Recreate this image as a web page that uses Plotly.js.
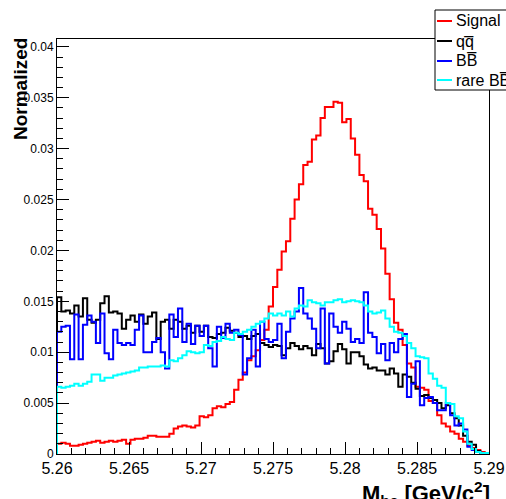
<!DOCTYPE html>
<html>
<head>
<meta charset="utf-8">
<script src="https://cdn.plot.ly/plotly-3.0.1.min.js"></script>
<style>html,body{margin:0;padding:0;background:#fff;}#chart{width:506px;height:499px;}</style>
</head>
<body>
<div id="chart"></div>
<script>
// Histogram binning (M_bc axis)
const xMin = 5.26;
const xMax = 5.29;
const nBins = 100;

const legendLabels = ["Signal", "qq\u0305", "BB\u0305", "rare BB\u0305"];
const seriesColors = ["#ff0000", "#000000", "#0000ff", "#00ffff"];

const signal = [
  0.0010, 0.0011, 0.0010, 0.0008, 0.0008, 0.0009, 0.0010, 0.0011, 0.0012, 0.0013,
  0.0011, 0.0012, 0.0013, 0.0012, 0.0013, 0.0014, 0.0010, 0.0014, 0.0015, 0.0015,
  0.0016, 0.0018, 0.0018, 0.0017, 0.0017, 0.0017, 0.0020, 0.0025, 0.0027, 0.0028,
  0.0027, 0.0026, 0.0028, 0.0037, 0.0036, 0.0038, 0.0045, 0.0047, 0.0046, 0.0049,
  0.0051, 0.0063, 0.0073, 0.0080, 0.0092, 0.0096, 0.0102, 0.0112, 0.0122, 0.0145,
  0.0164, 0.0181, 0.0199, 0.0209, 0.0231, 0.0250, 0.0265, 0.0284, 0.0287, 0.0309,
  0.0313, 0.0330, 0.0341, 0.0341, 0.0346, 0.0345, 0.0326, 0.0329, 0.0310, 0.0294,
  0.0274, 0.0268, 0.0241, 0.0235, 0.0221, 0.0202, 0.0177, 0.0152, 0.0129, 0.0122,
  0.0107, 0.0089, 0.0085, 0.0066, 0.0065, 0.0063, 0.0052, 0.0050, 0.0038, 0.0030,
  0.0027, 0.0022, 0.0020, 0.0015, 0.0012, 0.0008, 0.0006, 0.0004, 0.0002, 0.0001
];

const qqbar = [
  0.0154, 0.0140, 0.0141, 0.0138, 0.0146, 0.0135, 0.0153, 0.0132, 0.0129, 0.0132,
  0.0148, 0.0155, 0.0139, 0.0140, 0.0138, 0.0123, 0.0132, 0.0136, 0.0130, 0.0137,
  0.0128, 0.0135, 0.0139, 0.0113, 0.0130, 0.0132, 0.0123, 0.0132, 0.0130, 0.0123,
  0.0126, 0.0119, 0.0126, 0.0120, 0.0126, 0.0115, 0.0114, 0.0118, 0.0119, 0.0124,
  0.0121, 0.0119, 0.0115, 0.0116, 0.0113, 0.0116, 0.0118, 0.0109, 0.0107, 0.0105,
  0.0107, 0.0106, 0.0097, 0.0104, 0.0109, 0.0106, 0.0103, 0.0106, 0.0104, 0.0097,
  0.0108, 0.0104, 0.0089, 0.0091, 0.0101, 0.0108, 0.0103, 0.0089, 0.0100, 0.0100,
  0.0096, 0.0088, 0.0084, 0.0085, 0.0082, 0.0082, 0.0078, 0.0084, 0.0079, 0.0066,
  0.0078, 0.0076, 0.0070, 0.0064, 0.0057, 0.0058, 0.0055, 0.0053, 0.0050, 0.0045,
  0.0048, 0.0040, 0.0035, 0.0028, 0.0018, 0.0012, 0.0009, 0.0003, 0.0001, 0.0000
];

const bbbar = [
  0.0120, 0.0125, 0.0126, 0.0093, 0.0137, 0.0093, 0.0127, 0.0136, 0.0130, 0.0109,
  0.0138, 0.0099, 0.0093, 0.0122, 0.0109, 0.0107, 0.0109, 0.0107, 0.0122, 0.0136,
  0.0100, 0.0100, 0.0110, 0.0114, 0.0100, 0.0084, 0.0137, 0.0115, 0.0143, 0.0110,
  0.0128, 0.0108, 0.0126, 0.0116, 0.0126, 0.0104, 0.0086, 0.0125, 0.0114, 0.0128,
  0.0119, 0.0122, 0.0117, 0.0078, 0.0094, 0.0122, 0.0086, 0.0130, 0.0113, 0.0110,
  0.0112, 0.0128, 0.0094, 0.0120, 0.0133, 0.0140, 0.0163, 0.0138, 0.0133, 0.0123,
  0.0104, 0.0143, 0.0089, 0.0138, 0.0125, 0.0119, 0.0130, 0.0123, 0.0110, 0.0113,
  0.0109, 0.0159, 0.0119, 0.0115, 0.0099, 0.0108, 0.0092, 0.0109, 0.0100, 0.0113,
  0.0118, 0.0056, 0.0069, 0.0091, 0.0048, 0.0055, 0.0056, 0.0050, 0.0043, 0.0043,
  0.0050, 0.0038, 0.0028, 0.0030, 0.0024, 0.0007, 0.0004, 0.0002, 0.0000, 0.0000
];

const rareBB = [
  0.0066, 0.0065, 0.0066, 0.0067, 0.0069, 0.0067, 0.0069, 0.0071, 0.0078, 0.0078,
  0.0072, 0.0075, 0.0075, 0.0077, 0.0078, 0.0079, 0.0080, 0.0081, 0.0082, 0.0085,
  0.0085, 0.0086, 0.0086, 0.0086, 0.0087, 0.0086, 0.0092, 0.0091, 0.0094, 0.0097,
  0.0101, 0.0100, 0.0099, 0.0100, 0.0107, 0.0106, 0.0110, 0.0111, 0.0115, 0.0113,
  0.0112, 0.0119, 0.0118, 0.0120, 0.0122, 0.0125, 0.0128, 0.0130, 0.0133, 0.0138,
  0.0136, 0.0138, 0.0136, 0.0140, 0.0135, 0.0143, 0.0146, 0.0145, 0.0151, 0.0149,
  0.0148, 0.0146, 0.0149, 0.0149, 0.0151, 0.0152, 0.0149, 0.0150, 0.0151, 0.0150,
  0.0149, 0.0146, 0.0140, 0.0138, 0.0139, 0.0141, 0.0133, 0.0125, 0.0120, 0.0119,
  0.0116, 0.0109, 0.0104, 0.0096, 0.0095, 0.0094, 0.0079, 0.0074, 0.0067, 0.0065,
  0.0050, 0.0049, 0.0037, 0.0035, 0.0022, 0.0010, 0.0005, 0.0002, 0.0001, 0.0001
];

const allSeries = [signal, qqbar, bbbar, rareBB];

function stepTrace(vals, color, name) {
  const w = (xMax - xMin) / nBins;
  const x = [xMin], y = [0];
  for (let i = 0; i < vals.length; i++) { x.push(xMin + i * w); y.push(vals[i]); }
  x.push(xMax); y.push(vals[vals.length - 1]);
  x.push(xMax); y.push(0);
  return { x: x, y: y, type: 'scatter', mode: 'lines', name: name,
           line: { shape: 'hv', color: color, width: 2 }, showlegend: false,
           hoverinfo: 'skip' };
}

const traces = allSeries.map((s, i) => stepTrace(s, seriesColors[i], legendLabels[i]));

// plot area geometry in pixels
const W = 506, H = 499, L = 57, R = 17, T = 39, B = 45;
const pw = W - L - R, ph = H - T - B;
const px = v => (v - L) / pw;          // pixel x -> paper
const py = v => (H - B - v) / ph;      // pixel y -> paper

const font = "Liberation Sans, Arial, Helvetica, sans-serif";

const shapes = [
  { type: 'rect', xref: 'paper', yref: 'paper', x0: px(435), x1: px(512), y0: py(90), y1: py(10),
    line: { color: '#000', width: 1 }, fillcolor: '#fff', layer: 'above' }
];
const annotations = [];
const rowsY = [21, 41, 61, 80];
legendLabels.forEach((lab, i) => {
  shapes.push({ type: 'line', xref: 'paper', yref: 'paper', x0: px(437), x1: px(452),
    y0: py(rowsY[i]), y1: py(rowsY[i]), line: { color: seriesColors[i], width: 2 }, layer: 'above' });
  annotations.push({ xref: 'paper', yref: 'paper', x: px(454), y: py(rowsY[i]), xanchor: 'left', yanchor: 'middle',
    text: lab, showarrow: false, font: { family: font, size: 16, color: '#000' } });
});

annotations.push({ xref: 'paper', yref: 'paper', x: px(20), y: py(36), xanchor: 'center', yanchor: 'top',
  textangle: -90, text: '<b>Normalized</b>', showarrow: false, font: { family: font, size: 19, color: '#000' } });
annotations.push({ xref: 'paper', yref: 'paper', x: px(492), y: py(476), xanchor: 'right', yanchor: 'top',
  text: '<b>M<sub>bc</sub> [GeV/c<sup>2</sup>]</b>', showarrow: false, font: { family: font, size: 22, color: '#000' } });

const layout = {
  width: W, height: H,
  margin: { l: L, r: R, t: T, b: B, pad: 0 },
  paper_bgcolor: '#fff', plot_bgcolor: '#fff',
  showlegend: false,
  xaxis: {
    range: [xMin, xMax], tick0: 5.26, dtick: 0.005, ticks: 'inside', ticklen: 12, tickcolor: '#000', tickwidth: 1,
    minor: { dtick: 0.001, ticks: 'inside', ticklen: 6, tickcolor: '#000', tickwidth: 1 },
    showline: true, linecolor: '#000', linewidth: 1, mirror: true, showgrid: false, zeroline: false,
    tickfont: { family: font, size: 16, color: '#000' }, fixedrange: true
  },
  yaxis: {
    range: [0, 0.04077], tick0: 0, dtick: 0.005, ticks: 'inside', ticklen: 12, tickcolor: '#000', tickwidth: 1,
    minor: { dtick: 0.001, ticks: 'inside', ticklen: 6, tickcolor: '#000', tickwidth: 1 },
    showline: true, linecolor: '#000', linewidth: 1, mirror: true, showgrid: false, zeroline: false,
    tickfont: { family: font, size: 12, color: '#000' }, fixedrange: true
  },
  shapes: shapes,
  annotations: annotations
};

Plotly.newPlot('chart', traces, layout, { staticPlot: true, displayModeBar: false });
</script>
</body>
</html>
